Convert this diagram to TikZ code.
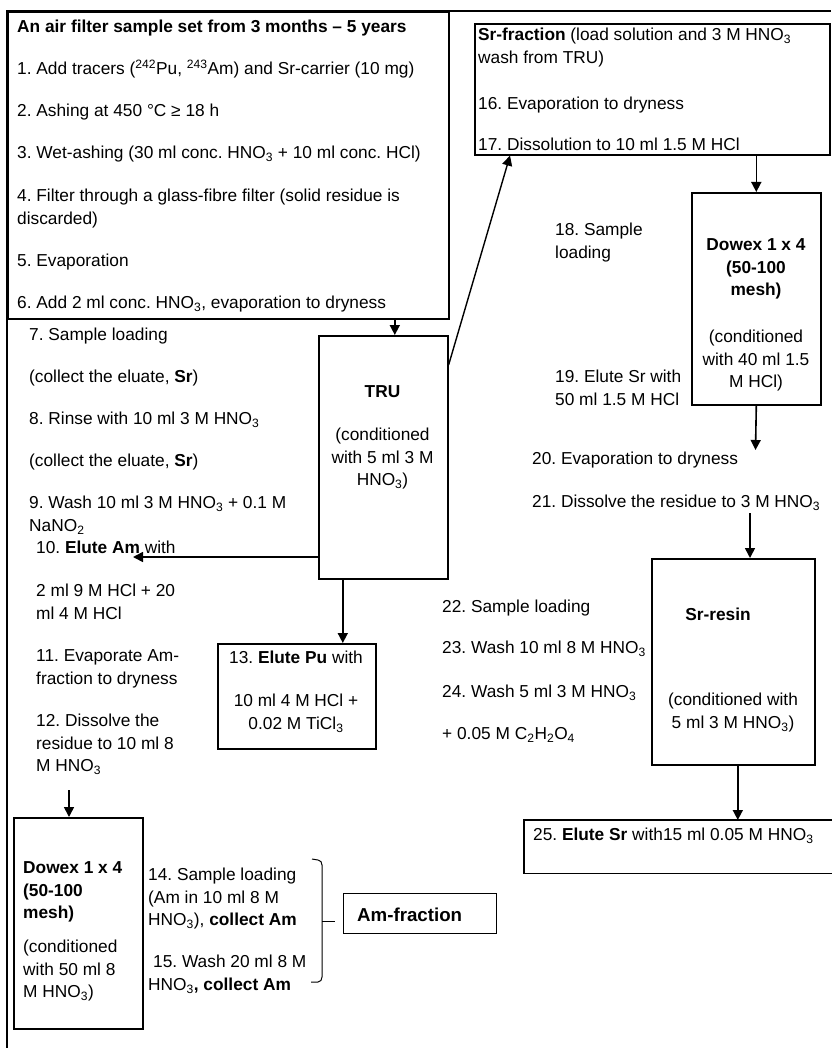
\documentclass[tikz,border=0pt]{standalone}
\usepackage{fontspec}
\setmainfont{Liberation Sans}
\usetikzlibrary{arrows.meta,calc}
\newcommand{\sbs}[1]{\textsubscript{#1}}
\newcommand{\sps}[1]{\textsuperscript{#1}}
\frenchspacing
\begin{document}
\begin{tikzpicture}[x=1pt,y=-1pt,
  box/.style={draw, line width=1.6pt, inner sep=0pt, anchor=north west},
  txt/.style={font=\fontsize{17.3}{22.5}\selectfont, inner sep=0pt, anchor=north west, align=left},
  ctxt/.style={font=\fontsize{17.3}{22.5}\selectfont, inner sep=0pt, anchor=north, align=center},
  arr/.style={line width=1.6pt, -{Triangle[length=10pt,width=10pt]}},
  frame/.style={line width=1.6pt},
]
\useasboundingbox (0,0) rectangle (831,1048);

% outer frame
\draw[frame] (7,1048) -- (7,11) -- (831,11);

% boxes
\node[box, minimum width=441pt, minimum height=307pt] (top) at (7,11) {};
\node[box, minimum width=355pt, minimum height=131pt] (srfrac) at (474,23) {};
\node[box, minimum width=129pt, minimum height=212pt] (dowexR) at (691,192) {};
\node[box, minimum width=129pt, minimum height=243pt] (tru) at (318,335) {};
\node[box, minimum width=158pt, minimum height=105pt] (pu) at (217,643) {};
\node[box, minimum width=129pt, minimum height=211pt] (dowexL) at (13,817) {};
\node[box, line width=1.2pt, minimum width=153pt, minimum height=40pt] (amfrac) at (343,893) {};
\node[box, minimum width=163pt, minimum height=206pt] (srresin) at (651,558) {};
\node[box, draw=none, minimum width=307pt, minimum height=52pt] (elutesr) at (524,820) {};
\draw[frame] (elutesr.north east) -- (elutesr.north west) -- (elutesr.south west) -- (elutesr.south east);

% top box text
\node[txt] (t0) at (17,17) {\strut\textbf{An air filter sample set from 3 months -- 5 years}};
\node[txt] (t1) at (17,59) {\strut 1. Add tracers (\sps{242}Pu, \sps{243}Am) and Sr-carrier (10 mg)};
\node[txt] (t2) at (17,101) {\strut 2. Ashing at 450 °C ≥ 18 h};
\node[txt] (t3) at (17,143) {\strut 3. Wet-ashing (30 ml conc. HNO\sbs{3} + 10 ml conc. HCl)};
\node[txt] (t4) at (17,186) {\strut 4. Filter through a glass-fibre filter (solid residue is\\discarded)};
\node[txt] (t5) at (17,251) {\strut 5. Evaporation};
\node[txt] (t6) at (17,293) {\strut 6. Add 2 ml conc. HNO\sbs{3}, evaporation to dryness};

% Sr-fraction text
\node[txt] (s1) at (478,25) {\strut\textbf{Sr-fraction} (load solution and 3 M HNO\sbs{3}\\wash from TRU)};
\node[txt] (s16) at (478,94) {\strut 16. Evaporation to dryness};
\node[txt] (s17) at (478,135) {\strut 17. Dissolution to 10 ml 1.5 M HCl};

% TRU text
\node[ctxt] (trut) at (382.5,382) {\strut\textbf{TRU}};
\node[ctxt] (truc) at (382.5,425) {\strut(conditioned\\with 5 ml 3 M\\HNO\sbs{3})};

% Dowex right text
\node[ctxt] (dRt) at (756,235) {\strut\textbf{Dowex 1 x 4}\\\textbf{(50-100}\\\textbf{mesh)}};
\node[ctxt] (dRc) at (756,327) {\strut(conditioned\\with 40 ml 1.5\\M HCl)};

% Dowex left text
\node[txt] (dLt) at (23,858) {\strut\textbf{Dowex 1 x 4}\\\textbf{(50-100}\\\textbf{mesh)}};
\node[txt] (dLc) at (23,937) {\strut(conditioned\\with 50 ml 8\\M HNO\sbs{3})};

% Pu text
\node[ctxt] (put) at (296,648) {\strut 13. \textbf{Elute Pu} with};
\node[ctxt] (puc) at (296,691) {\strut 10 ml 4 M HCl +\\0.02 M TiCl\sbs{3}};

% Sr-resin text
\node[ctxt] (srt) at (718,605) {\strut\textbf{Sr-resin}};
\node[ctxt] (src) at (733,690) {\strut(conditioned with\\5 ml 3 M HNO\sbs{3})};

% Elute Sr text
\node[txt] (et) at (533,825) {\strut 25. \textbf{Elute Sr} with15 ml 0.05 M HNO\sbs{3}};

% Am-fraction text
\node[font=\fontsize{18.7}{23}\selectfont\bfseries, inner sep=0pt, anchor=base west] (amt) at (357,921) {Am-fraction};

% left column text
\node[txt] (l7) at (29,325) {\strut 7. Sample loading};
\node[txt] (l7b) at (29,367) {\strut(collect the eluate, \textbf{Sr})};
\node[txt] (l8) at (29,409) {\strut 8. Rinse with 10 ml 3 M HNO\sbs{3}};
\node[txt] (l8b) at (29,451) {\strut(collect the eluate, \textbf{Sr})};
\node[txt] (l9) at (29,493) {\strut 9. Wash 10 ml 3 M HNO\sbs{3} + 0.1 M\\NaNO\sbs{2}};
\node[txt] (l10) at (36,538) {\strut 10. \textbf{Elute Am} with};
\node[txt] (l10b) at (36,581) {\strut 2 ml 9 M HCl + 20\\ml 4 M HCl};
\node[txt] (l11) at (36,646) {\strut 11. Evaporate Am-\\fraction to dryness};
\node[txt] (l12) at (36,711) {\strut 12. Dissolve the\\residue to 10 ml 8\\M HNO\sbs{3}};
\node[txt] (l14) at (148,865) {\strut 14. Sample loading\\(Am in 10 ml 8 M\\HNO\sbs{3}), \textbf{collect Am}};
\node[txt] (l15) at (148,952) {\strut\hspace{5pt}15. Wash 20 ml 8 M\\HNO\sbs{3}\textbf{, collect Am}};

% right column text
\node[txt] (r18) at (555,220) {\strut 18. Sample\\loading};
\node[txt] (r19) at (555,367) {\strut 19. Elute Sr with\\50 ml 1.5 M HCl};
\node[txt] (r20) at (532,449) {\strut 20. Evaporation to dryness};
\node[txt] (r21) at (532,492) {\strut 21. Dissolve the residue to 3 M HNO\sbs{3}};
\node[txt] (r22) at (442,597) {\strut 22. Sample loading};
\node[txt] (r23) at (442,638) {\strut 23. Wash 10 ml 8 M HNO\sbs{3}};
\node[txt] (r24) at (442,682) {\strut 24. Wash 5 ml 3 M HNO\sbs{3}};
\node[txt] (r24b) at (442,724) {\strut + 0.05 M C\sbs{2}H\sbs{2}O\sbs{4}};

% connectors
\draw[arr] ([xshift=11.5pt]tru.north |- top.south) -- ([xshift=11.5pt]tru.north);
\draw[arr, line width=1.4pt] ([yshift=-30pt]tru.north east) -- ([xshift=36pt]srfrac.south west);
\draw[arr] (dowexR.north |- srfrac.south) -- (dowexR.north);
\coordinate (a20) at (755.5,450);
\draw[arr] (dowexR.south) -- (a20);
\coordinate (s21) at (750,513);
\draw[arr] (s21) -- (s21 |- srresin.north);
\draw[arr] ([xshift=4.5pt]srresin.south) -- ([xshift=4.5pt]srresin.south |- elutesr.north);
\coordinate (am10) at (133,557);
\draw[arr] (tru.west |- am10) -- (am10);
\draw[arr] ([xshift=-40.5pt]tru.south) -- ([xshift=-40.5pt]tru.south |- pu.north);
\coordinate (d12) at (69,790);
\draw[arr] (d12) -- (d12 |- dowexL.north);

% bracket
\draw[line width=1pt] (312,859) -- (318,860) to[out=0,in=90] (322,865) -- (322,977) to[out=-90,in=0] (318,982) -- (311,982);
\draw[line width=1pt] (322,921) -- (335,921);
\end{tikzpicture}
\end{document}
